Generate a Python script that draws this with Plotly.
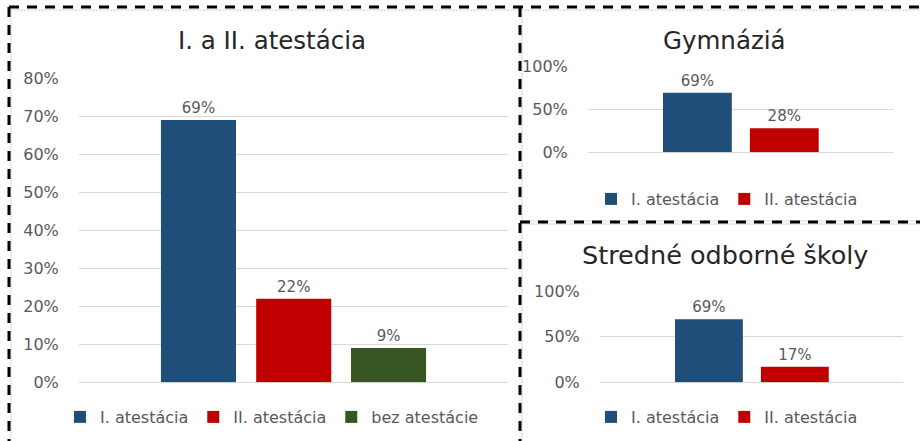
import plotly.graph_objects as go

# ---------------- data ----------------
series_all = ["I. atestácia", "II. atestácia", "bez atestácie"]
values_all = [0.69, 0.22, 0.09]

series_gym = ["I. atestácia", "II. atestácia"]
values_gym = [0.69, 0.28]

series_sos = ["I. atestácia", "II. atestácia"]
values_sos = [0.69, 0.17]

titles = ["I. a II. atestácia", "Gymnáziá", "Stredné odborné školy"]
ticks_all = [0, 0.1, 0.2, 0.3, 0.4, 0.5, 0.6, 0.7, 0.8]
ticks_small = [0, 0.5, 1.0]

# ---------------- style ----------------
colors = ["#1F4E79", "#C00000", "#375623"]
FONT = "DejaVu Sans"
GRAY = "#595959"
W, H = 920, 441


def px_x(p):
    return p / W


def px_y(p):
    return (H - p) / H


fig = go.Figure()

panels = [
    dict(series=series_all, values=values_all, xa="x", ya="y", legend="legend",
         width=0.175, offsets=[-0.309, -0.087, 0.134]),
    dict(series=series_gym, values=values_gym, xa="x2", ya="y2", legend="legend2",
         width=0.225, offsets=[-0.255, 0.029]),
    dict(series=series_sos, values=values_sos, xa="x3", ya="y3", legend="legend3",
         width=0.224, offsets=[-0.2525, 0.031]),
]

for p in panels:
    for i, (name, val) in enumerate(zip(p["series"], p["values"])):
        fig.add_trace(go.Bar(
            x=["c"], y=[val], name=name,
            marker=dict(color=colors[i], line=dict(width=0)),
            width=p["width"], offset=p["offsets"][i],
            texttemplate="%{y:.0%}", textposition="outside",
            textfont=dict(family=FONT, size=15, color=GRAY),
            cliponaxis=False,
            xaxis=p["xa"], yaxis=p["ya"], legend=p["legend"],
            hoverinfo="skip",
        ))

xcommon = dict(type="category", range=[-0.5, 0.5], showticklabels=False,
               showgrid=False, zeroline=False, showline=False, fixedrange=True)
ycommon = dict(tickformat=".0%", showgrid=True, gridcolor="#D9D9D9", gridwidth=1,
               zeroline=True, zerolinecolor="#D9D9D9", zerolinewidth=1,
               showline=False, ticks="outside", ticklen=0, ticklabelstandoff=16,
               tickfont=dict(family=FONT, size=16, color=GRAY), fixedrange=True)

legfont = dict(family=FONT, size=16, color=GRAY)
fig.update_layout(
    width=W, height=H,
    margin=dict(l=0, r=0, t=0, b=0, pad=0, autoexpand=False),
    paper_bgcolor="white", plot_bgcolor="white",
    barmode="overlay",
    showlegend=True,
    xaxis=dict(domain=[px_x(79), px_x(508)], anchor="y", **xcommon),
    yaxis=dict(domain=[px_y(382.3), px_y(78.3)], anchor="x", range=[0, 0.8],
               tickvals=ticks_all, **ycommon),
    xaxis2=dict(domain=[px_x(588), px_x(894)], anchor="y2", **xcommon),
    yaxis2=dict(domain=[px_y(152.3), px_y(66)], anchor="x2", range=[0, 1.0],
                tickvals=ticks_small, **ycommon),
    xaxis3=dict(domain=[px_x(600), px_x(903)], anchor="y3", **xcommon),
    yaxis3=dict(domain=[px_y(382.3), px_y(291)], anchor="x3", range=[0, 1.0],
                tickvals=ticks_small, **ycommon),
    legend=dict(orientation="h", x=px_x(272), xanchor="center", y=px_y(417),
                yanchor="middle", font=legfont, bgcolor="rgba(0,0,0,0)"),
    legend2=dict(orientation="h", x=px_x(727), xanchor="center", y=px_y(199),
                 yanchor="middle", font=legfont, bgcolor="rgba(0,0,0,0)"),
    legend3=dict(orientation="h", x=px_x(727), xanchor="center", y=px_y(417),
                 yanchor="middle", font=legfont, bgcolor="rgba(0,0,0,0)"),
)

# titles
title_pos = [(272, 41, 24.5), (724, 41, 24.5), (725, 255, 25.5)]
for t, (cx, cy, fs) in zip(titles, title_pos):
    fig.add_annotation(text=t, x=px_x(cx), y=px_y(cy), xref="paper", yref="paper",
                       showarrow=False, xanchor="center", yanchor="middle",
                       font=dict(family=FONT, size=fs, color="#262626"))

# light chart borders (left / top edges only)
border = dict(color="#D9D9D9", width=1)
for (x0, y0, x1, y1) in [(11, 10, 11, 441), (11, 10, 920, 10),
                         (522, 10, 522, 441), (522, 221, 920, 221),
                         (522, 224, 920, 224)]:
    fig.add_shape(type="line", xref="paper", yref="paper",
                  x0=px_x(x0), x1=px_x(x1), y0=px_y(y0), y1=px_y(y1),
                  line=border, layer="below")

# dashed frame lines
dash = dict(color="black", width=3, dash="10px,8px")
fig.add_shape(type="line", xref="paper", yref="paper", x0=px_x(9), x1=px_x(920),
              y0=px_y(7), y1=px_y(7), line=dash)
fig.add_shape(type="line", xref="paper", yref="paper", x0=px_x(9), x1=px_x(9),
              y0=px_y(7), y1=px_y(441), line=dash)
fig.add_shape(type="line", xref="paper", yref="paper", x0=px_x(520), x1=px_x(520),
              y0=px_y(7), y1=px_y(441), line=dash)
fig.add_shape(type="line", xref="paper", yref="paper", x0=px_x(520), x1=px_x(920),
              y0=px_y(222), y1=px_y(222), line=dash)

fig.write_html("out.html", config={"displayModeBar": False},
               post_script="document.body.style.margin='0px';"
                           "document.body.style.overflow='hidden';")
